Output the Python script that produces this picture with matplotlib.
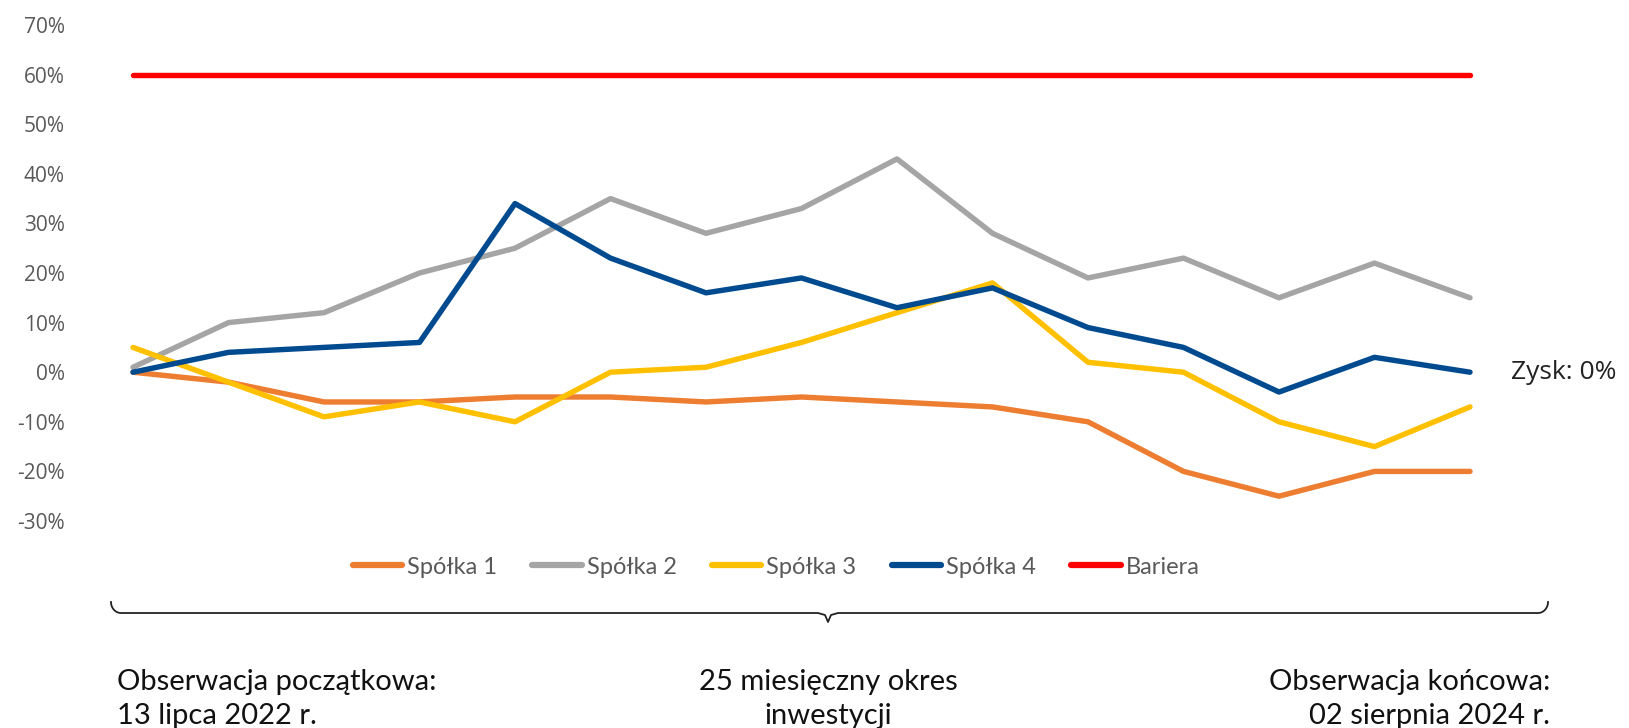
import numpy as np
import matplotlib.pyplot as plt
from matplotlib.lines import Line2D

# observation points (15 monthly-ish observations)
obs = list(range(15))

spolka_1 = [0, -2, -6, -6, -5, -5, -6, -5, -6, -7, -10, -20, -25, -20, -20]
spolka_2 = [1, 10, 12, 20, 25, 35, 28, 33, 43, 28, 19, 23, 15, 22, 15]
spolka_3 = [5, -2, -9, -6, -10, 0, 1, 6, 12, 18, 2, 0, -10, -15, -7]
spolka_4 = [0, 4, 5, 6, 34, 23, 16, 19, 13, 17, 9, 5, -4, 3, 0]
bariera = [60] * 15

series_names = ["Spółka 1", "Spółka 2", "Spółka 3", "Spółka 4", "Bariera"]
series_colors = ["#ED7D31", "#A5A5A5", "#FFC000", "#004A8F", "#FF0000"]
y_ticks = [-30, -20, -10, 0, 10, 20, 30, 40, 50, 60, 70]

W, H = 1629, 728
fig = plt.figure(figsize=(W / 100, H / 100), dpi=100)

# axes placed in pixels: x index 0 at 133 px, index 14 at 1470 px; 70% at y=25, -30% at y=521
ax = fig.add_axes([133 / W, 1 - 521 / H, (1470 - 133) / W, (521 - 25) / H])
ax.set_xlim(0, 14)
ax.set_ylim(-30, 70)

for data, col in zip([spolka_1, spolka_2, spolka_3, spolka_4, bariera], series_colors):
    ax.plot(obs, data, color=col, linewidth=3.9, solid_capstyle="round",
            solid_joinstyle="round", clip_on=False)

for s in ax.spines.values():
    s.set_visible(False)
ax.set_xticks([])
ax.set_yticks(y_ticks)
ax.set_yticklabels([f"{t}%" for t in y_ticks], family="Open Sans", fontsize=15,
                   color="#595959")
ax.tick_params(axis="y", length=0, pad=49)

ax.text(14.43, 0, "Zysk: 0%", family="Open Sans", fontsize=19, color="#222222",
        va="center", ha="left", clip_on=False)

# legend
handles = [Line2D([], [], color=c, linewidth=4.5, solid_capstyle="round") for c in series_colors]
fig.legend(handles, series_names, loc="center", bbox_to_anchor=(776 / W, 1 - 567 / H),
           ncol=5, frameon=False, prop={"family": "Lato", "size": 17},
           labelcolor="#595959", handlelength=2.1, handletextpad=0.2, columnspacing=1.5)

# curly brace under the chart
x0, x1, xm = 111, 1548, 828
yl, ye, yt = 613, 602, 622
r = 10
def fx(v):
    return v / W
def fy(v):
    return 1 - v / H
t = np.linspace(0, np.pi / 2, 20)
left_end_x = x0 + r - r * np.cos(t)
left_end_y = ye + (yl - ye) * np.sin(t)
bx = list(left_end_x) + [xm - r]
by = list(left_end_y) + [yl]
# tip
bx += [xm - 3, xm, xm + 3, xm + r]
by += [yl + 2, yt, yl + 2, yl]
right_end_x = x1 - r + r * np.cos(t[::-1])
right_end_y = ye + (yl - ye) * np.sin(t[::-1])
bx += list(right_end_x)
by += list(right_end_y)
fig.add_artist(Line2D([fx(v) for v in bx], [fy(v) for v in by], color="#222222",
                      linewidth=1.3))

# bottom annotations
txt = dict(family="Lato", fontsize=21, color="#111111", linespacing=1.4)
fig.text(117 / W, 1 - 699 / H, "Obserwacja początkowa:\n13 lipca 2022 r.", ha="left",
         va="center", **txt)
fig.text(828 / W, 1 - 699 / H, "25 miesięczny okres\ninwestycji", ha="center",
         va="center", multialignment="center", **txt)
fig.text(1550 / W, 1 - 699 / H, "Obserwacja końcowa:\n02 sierpnia 2024 r.", ha="right",
         va="center", multialignment="right", **txt)

fig.savefig("out.png", dpi=100)
